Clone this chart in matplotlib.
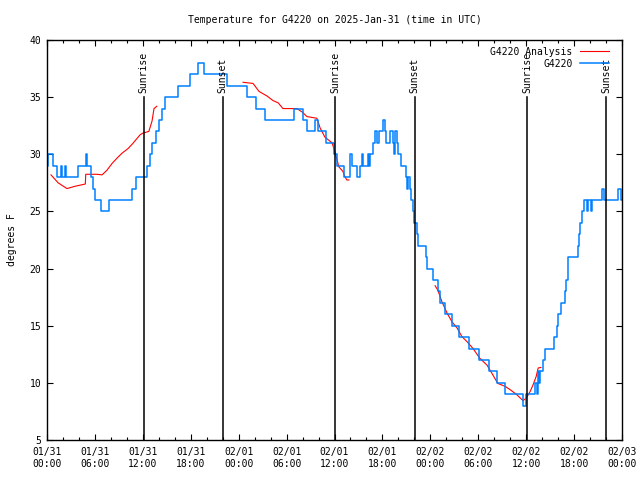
import numpy as np
import matplotlib
matplotlib.use("Agg")
import matplotlib.pyplot as plt

## DATA  (x = hours since 2025-01-31 00:00 UTC, y = degrees F)

# G4220 observations (step changes)
obs_hours = [0.0, 0.15, 0.75, 1.25, 1.75, 1.9, 2.25, 2.4, 3.9, 4.9, 5.05, 5.25, 5.5, 5.75,
             6.0, 6.75, 7.75, 10.65, 11.1, 12.55, 12.9, 13.2, 13.6, 14.0, 14.4, 14.75,
             16.4, 17.9, 18.9, 19.6, 22.5, 25.0, 26.15, 27.3, 30.9, 32.05, 32.55, 33.5,
             33.9, 34.95, 35.95, 36.3, 37.2, 37.95, 38.2, 38.8, 39.2, 39.45, 39.6, 40.2,
             40.35, 40.45, 40.8, 41.1, 41.35, 41.55, 42.05, 42.3, 42.5, 42.95, 43.3, 43.45,
             43.6, 43.85, 43.95, 44.35, 44.95, 45.05, 45.2, 45.45, 45.6, 45.8, 46.0, 46.35,
             46.5, 47.45, 47.6, 47.95, 48.3, 48.95, 49.2, 49.85, 50.7, 51.6, 52.85, 54.1,
             55.35, 56.35, 57.35, 59.6, 59.98, 61.1, 61.3, 61.45, 61.6, 61.75, 62.1, 62.35,
             63.45, 63.85, 64.0, 64.3, 64.85, 65.05, 65.2, 66.5, 66.6, 66.75, 67.0, 67.25,
             67.6, 67.75, 68.1, 68.25, 69.5, 69.75, 71.5, 71.9, 72.0]
obs_temps = [29, 30, 29, 28, 29, 28, 29, 28, 29, 30, 29, 29, 28, 27,
             26, 25, 26, 27, 28, 29, 30, 31, 32, 33, 34, 35,
             36, 37, 38, 37, 36, 35, 34, 33, 34, 33, 32, 33,
             32, 31, 30, 29, 28, 30, 29, 28, 29, 30, 29, 30,
             29, 30, 31, 32, 31, 32, 33, 32, 31, 32, 31, 30,
             32, 31, 30, 29, 28, 27, 28, 27, 26, 25, 24, 23,
             22, 21, 20, 20, 19, 18, 17, 16, 15, 14, 13, 12,
             11, 10, 9, 8, 9, 10, 9, 11, 10, 11, 12, 13,
             14, 15, 16, 17, 18, 19, 21, 22, 23, 24, 25, 26,
             25, 26, 25, 26, 27, 26, 27, 26, 26]

# G4220 analysis (three daytime segments)
ana1_hours = [0.5, 1.4, 2.5, 3.5, 4.8, 4.85, 6.25, 6.9, 7.5, 8.15, 8.75, 9.4, 10.15,
              10.75, 11.65, 12.0, 12.75, 13.15, 13.4, 13.75]
ana1_temps = [28.2, 27.5, 27.0, 27.2, 27.4, 28.25, 28.25, 28.2, 28.6, 29.2, 29.65, 30.1,
              30.5, 30.95, 31.7, 31.85, 32.0, 32.9, 34.0, 34.2]
ana2_hours = [24.55, 25.8, 26.55, 27.55, 28.3, 28.95, 29.55, 31.3, 31.95, 32.55, 33.8,
              34.2, 34.8, 35.7, 36.05, 36.55, 37.05, 37.3, 37.55, 37.8]
ana2_temps = [36.3, 36.2, 35.5, 35.1, 34.7, 34.5, 34.0, 34.0, 33.7, 33.3, 33.15, 32.3,
              31.5, 31.0, 30.2, 28.9, 28.5, 28.05, 27.75, 27.75]
ana3_hours = [48.6, 48.95, 49.45, 50.1, 50.7, 51.35, 51.95, 52.6, 53.35, 54.2, 55.1,
              55.7, 56.45, 57.35, 58.0, 58.85, 59.6, 60.0, 60.5, 60.85, 61.25, 61.5, 61.85]
ana3_temps = [18.5, 18.1, 17.1, 16.1, 15.35, 14.8, 14.05, 13.6, 13.0, 12.15, 11.55,
              10.85, 9.95, 9.7, 9.4, 8.95, 8.45, 8.65, 9.25, 9.8, 10.55, 11.3, 11.35]

sun_hours = [12.1, 22.0, 36.1, 46.05, 60.1, 70.05]
sun_names = ["Sunrise", "Sunset", "Sunrise", "Sunset", "Sunrise", "Sunset"]

tick_labels = ["01/31\n00:00", "01/31\n06:00", "01/31\n12:00", "01/31\n18:00",
               "02/01\n00:00", "02/01\n06:00", "02/01\n12:00", "02/01\n18:00",
               "02/02\n00:00", "02/02\n06:00", "02/02\n12:00", "02/02\n18:00",
               "02/03\n00:00"]


## PLOTTING
plt.rcParams['font.family'] = 'DejaVu Sans Mono'
plt.rcParams['font.size'] = 7

fig = plt.figure(figsize=(6.4, 4.8), dpi=100)
ax = fig.add_axes([47 / 640, 40 / 480, 575 / 640, 400 / 480])

# analysis first so obs sit on top
ax.plot(ana1_hours, ana1_temps, color="#ff0000", lw=0.8, label="G4220 Analysis")
ax.plot(ana2_hours, ana2_temps, color="#ff0000", lw=0.8)
ax.plot(ana3_hours, ana3_temps, color="#ff0000", lw=0.8)
ax.plot(obs_hours, obs_temps, color="#0080ff", lw=1.1, drawstyle="steps-post", label="G4220")

for h, name in zip(sun_hours, sun_names):
    ax.plot([h, h], [5, 35], color="black", lw=1.1)
    ax.text(h, 35.4, name, rotation=90, ha="center", va="bottom")

ax.set_xlim(0, 72)
ax.set_ylim(5, 40)
ax.set_xticks(np.arange(0, 73, 6))
ax.set_xticklabels(tick_labels)
ax.set_xticks(np.arange(0, 73, 2), minor=True)
ax.set_yticks(np.arange(5, 41, 5))
ax.tick_params(which="both", direction="in", top=True, right=True, width=0.8)
ax.tick_params(which="major", length=4, pad=5)
ax.tick_params(which="minor", length=2.5)
ax.tick_params(axis="y", pad=4)
for s in ax.spines.values():
    s.set_linewidth(1.0)

ax.set_ylabel("degrees F", labelpad=9)
ax.set_title("Temperature for G4220 on 2025-Jan-31 (time in UTC)", fontsize=7, pad=12)

ax.legend(loc="upper right", bbox_to_anchor=(0.99, 1.0), frameon=False, markerfirst=False,
          handlelength=3, borderaxespad=0.3, labelspacing=0.2, handletextpad=0.8)

plt.savefig("out.png", dpi=100)
